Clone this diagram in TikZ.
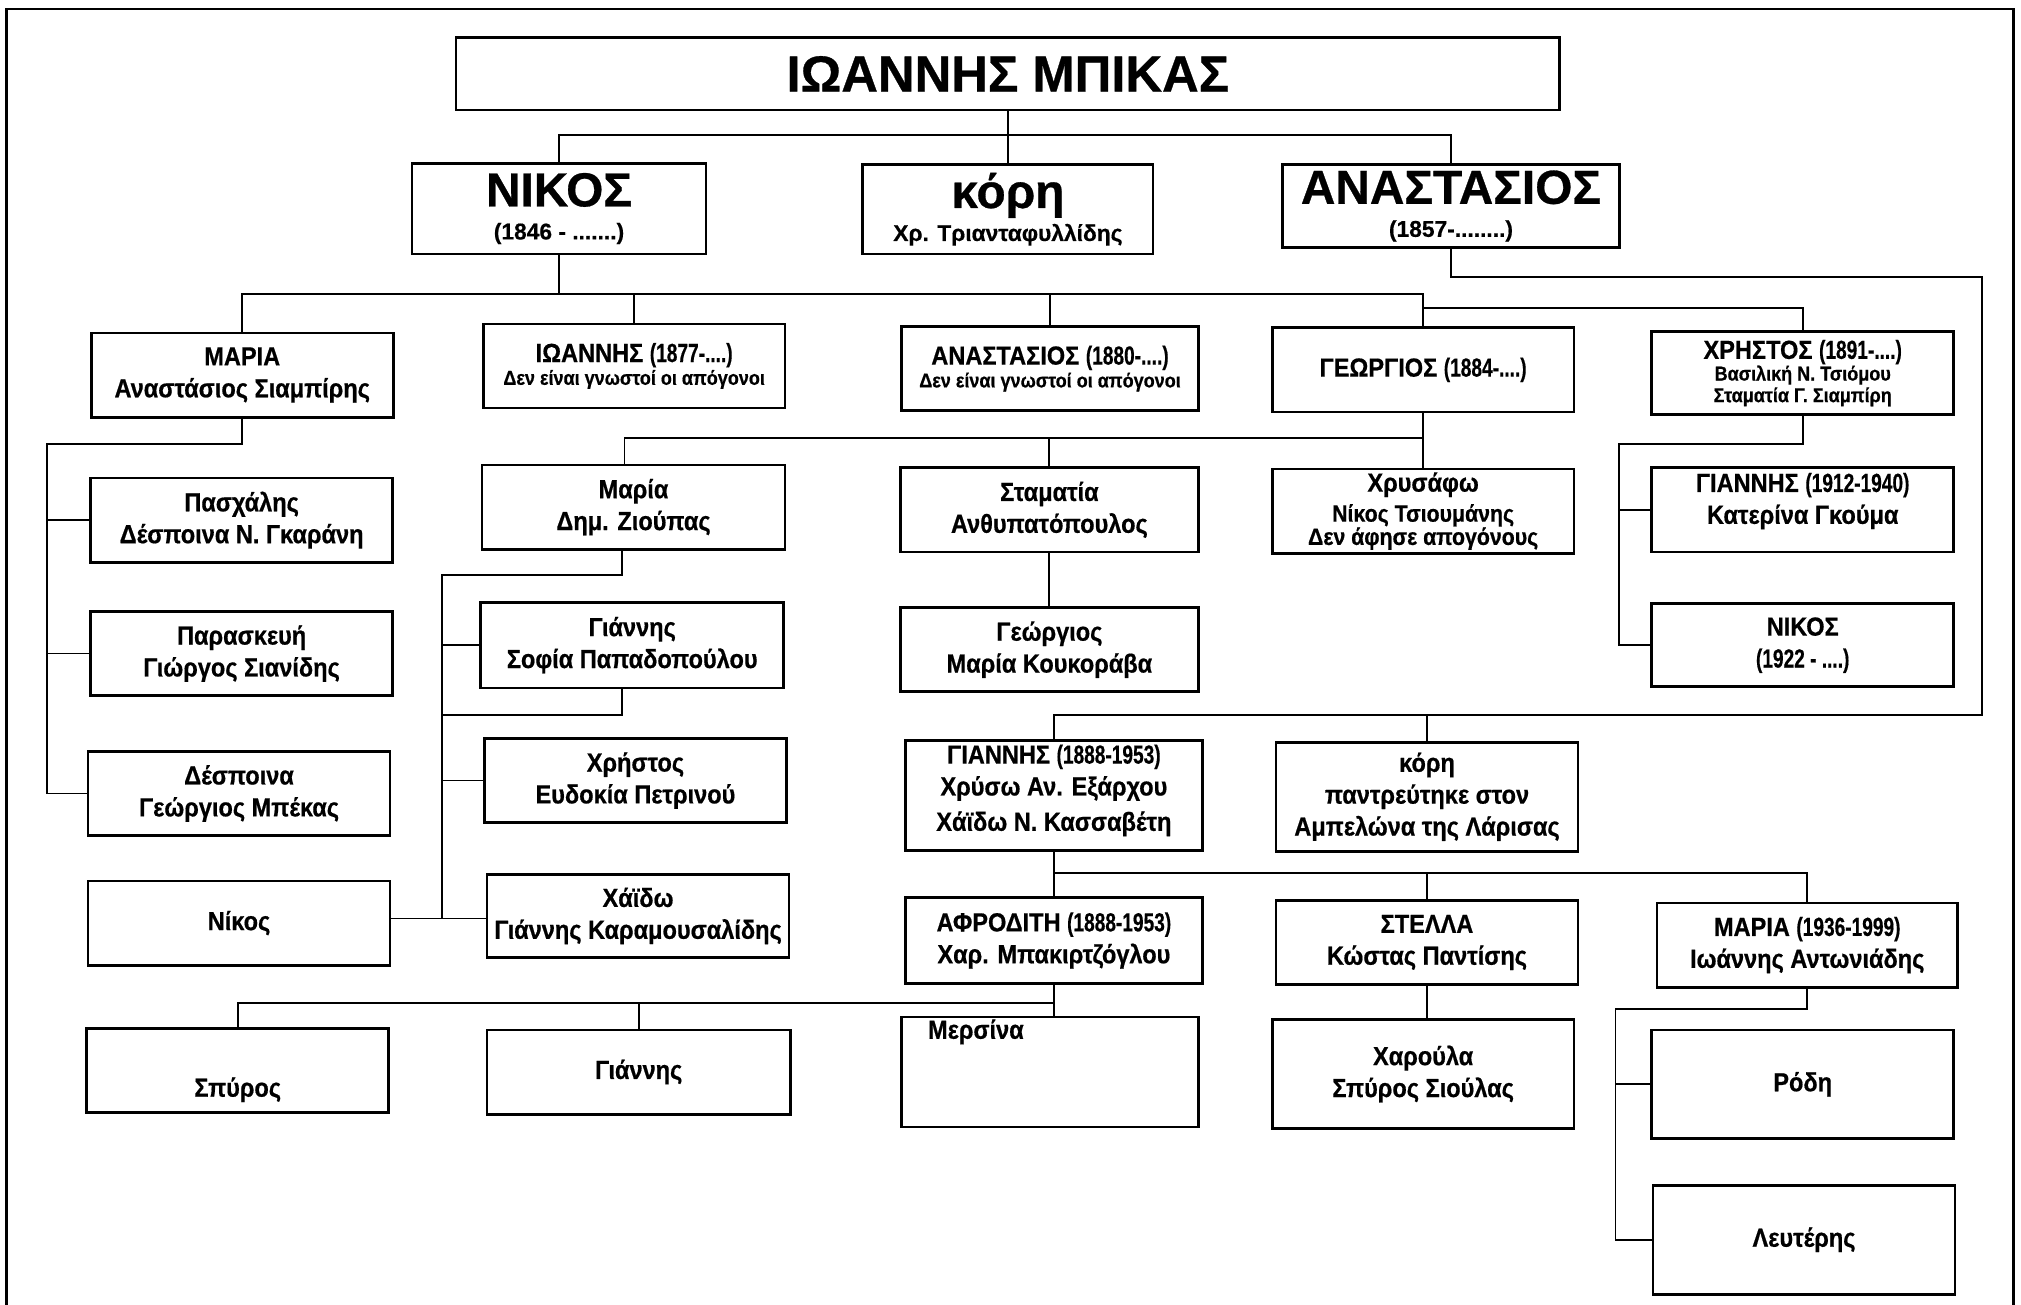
\documentclass[tikz,border=0pt]{standalone}
\usepackage{fontspec}
\setmainfont{Liberation Sans}[FakeStretch=0.9, BoldFeatures={FakeBold=0.6}]
\newfontfamily\headfont{Liberation Sans}[BoldFeatures={FakeBold=0.6}]
\newfontfamily\narrowfont{Liberation Sans}[FakeStretch=0.73, BoldFeatures={FakeBold=0.4}]

\newcommand{\yr}[1]{{\narrowfont\bfseries #1}}
\newcommand{\note}[1]{{\fontsize{8.8}{10}\selectfont #1}}
\newcommand{\minor}[1]{{\fontsize{10.4}{12}\selectfont #1}}

\tikzset{
  person/.style={draw, line width=1.2pt, align=center, inner sep=1pt,
    minimum width=233*0.02cm, minimum height=65*0.02cm,
    font=\fontsize{11.5}{14}\selectfont\bfseries},
  head/.style={person, font=\headfont\fontsize{21}{14.5}\selectfont\bfseries},
  sz/.style 2 args={minimum width=#1*0.02cm, minimum height=#2*0.02cm},
  link/.style={line width=0.8pt},
}

\begin{document}
\begin{tikzpicture}[x=0.02cm, y=-0.02cm]
	\useasboundingbox (0,0) rectangle (1560,1007);
	\draw[line width=1.2pt] (5,1007) -- (5,7) -- (1554,7) -- (1554,1007);
	
	% first generations
	\node[head, sz={852}{56}, font=\headfont\fontsize{22.3}{22}\selectfont\bfseries] (root) at (778,57) {ΙΩΑΝΝΗΣ ΜΠΙΚΑΣ};
	\node[head, sz={227}{70}] (nikos) at (431.5,161) {ΝΙΚΟΣ\\{\fontsize{10}{12}\selectfont (1846 - .......)}};
	\node[head, sz={224}{69}] (kori) at (778,161.5) {κόρη\\{\fontsize{10}{12}\selectfont Χρ. Τριανταφυλλίδης}};
	\node[head, sz={260}{64}] (anast) at (1120,159) {ΑΝΑΣΤΑΣΙΟΣ\\{\fontsize{10}{12}\selectfont (1857-........)}};
	
	\node[person] (maria) at (187,289.5) {ΜΑΡΙΑ\\Αναστάσιος Σιαμπίρης};
	\node[person] (ioan) at (489.5,282.5) {ΙΩΑΝΝΗΣ \yr{(1877-....)}\\[-4pt]\note{Δεν είναι γνωστοί οι απόγονοι}};
	\node[person, sz={229}{65}] (anast2) at (810.5,284.5) {ΑΝΑΣΤΑΣΙΟΣ \yr{(1880-....)}\\[-4pt]\note{Δεν είναι γνωστοί οι απόγονοι}};
	\node[person] (georg) at (1098.5,285.5) {ΓΕΩΡΓΙΟΣ \yr{(1884-....)}};
	\node[person, sz={233}{64}] (chris) at (1391.5,288) {ΧΡΗΣΤΟΣ \yr{(1891-....)}\\[-4.5pt]\note{Βασιλική Ν. Τσιόμου}\\[-4.5pt]\note{Σταματία Γ. Σιαμπίρη}};
	
	\node[person] (pasch) at (186.5,401.5) {Πασχάλης\\Δέσποινα Ν. Γκαράνη};
	\node[person] (parask) at (186.5,504.5) {Παρασκευή\\Γιώργος Σιανίδης};
	\node[person] (desp) at (184.5,612.5) {Δέσποινα\\Γεώργιος Μπέκας};
	\node[person] (nikosm) at (184.5,712.5) {Νίκος};
	
	\node[person, sz={234}{65}] (mariaz) at (489,391.5) {Μαρία\\Δημ. Ζιούπας};
	\node[person, sz={234}{66}] (giannsp) at (488,498) {Γιάννης\\Σοφία Παπαδοπούλου};
	\node[person] (christ) at (490.5,602.5) {Χρήστος\\Ευδοκία Πετρινού};
	\node[person, sz={233}{64}] (chaido) at (492.5,707) {Χάϊδω\\Γιάννης Καραμουσαλίδης};
	
	\node[person, sz={230}{65}] (stam) at (810,393.5) {Σταματία\\Ανθυπατόπουλος};
	\node[person, sz={230}{65}] (georgk) at (810,501.5) {Γεώργιος\\Μαρία Κουκοράβα};
	\node[person] (chrys) at (1098.5,394.5) {Χρυσάφω\\[-0.8pt]\minor{Νίκος Τσιουμάνης}\\[-3.8pt]\minor{Δεν άφησε απογόνους}};
	\node[person, text depth=10pt] (giannis12) at (1391.5,393.5) {ΓΙΑΝΝΗΣ \yr{(1912-1940)}\\Κατερίνα Γκούμα};
	\node[person, sz={233}{64}] (nikos22) at (1391.5,498) {ΝΙΚΟΣ\\\yr{(1922 - ....)}};
	
	\node[person, sz={229}{85}, text depth=6.8pt] (giannis88) at (813.5,614) {ΓΙΑΝΝΗΣ \yr{(1888-1953)}\\Χρύσω Αν. Εξάρχου\\[1.5pt]Χάϊδω Ν. Κασσαβέτη};
	\node[person, sz={233}{84}] (kori2) at (1101.5,615) {κόρη\\παντρεύτηκε στον\\Αμπελώνα της Λάρισας};
	\node[person, sz={229}{66}] (afrod) at (813.5,726) {ΑΦΡΟΔΙΤΗ \yr{(1888-1953)}\\Χαρ. Μπακιρτζόγλου};
	\node[person] (stella) at (1101.5,727.5) {ΣΤΕΛΛΑ\\Κώστας Παντίσης};
	\node[person, sz={232}{65}] (mariaa) at (1395,729.5) {ΜΑΡΙΑ \yr{(1936-1999)}\\Ιωάννης Αντωνιάδης};
	
	\node[person] (spyros) at (183.5,826.5) {\raisebox{-11.4pt}[0pt][0pt]{Σπύρος}};
	\node[person, sz={234}{65}] (giannisa) at (493,827.5) {Γιάννης};
	\node[person, sz={229}{85}, label={[anchor=north west, inner sep=0pt, xshift=12pt, yshift=-1.5pt, font=\fontsize{11.5}{14}\selectfont\bfseries]north west:Μερσίνα}] (mersina) at (810.5,827.5) {};
	\node[person, sz={233}{84}] (charoula) at (1098.5,829) {Χαρούλα\\Σπύρος Σιούλας};
	\node[person, sz={233}{84}] (rodi) at (1391.5,837) {Ρόδη};
	\node[person, sz={233}{84}] (lefteris) at (1392.5,957) {Λευτέρης};
	
	% junctions
	\coordinate (j0) at (779,104);
	\coordinate (j1) at (431.5,227);
	\coordinate (j2) at (1098.5,238);
	\coordinate (r1) at (1530,214);
	\coordinate (r2) at (1530,552);
	\coordinate (m1) at (36,343);
	\coordinate (g1) at (1098.5,338);
	\coordinate (z1) at (341,444);
	\coordinate (z2) at (341,709);
	\coordinate (z3) at (341,552);
	\coordinate (c1) at (1250,343);
	\coordinate (y1) at (813.5,674);
	\coordinate (a1) at (813.5,774);
	\coordinate (d1) at (1247,779);
	
	\draw[link] (root.south) -- (kori.north);
	\draw[link] (nikos.north) |- (j0) -| (anast.north);
	
	\draw[link] (anast.south) |- (r1) -- (r2) -| (giannis88.north);
	\draw[link] (kori2.north) -- (kori2.north |- r2);
	
	\draw[link] (nikos.south) -- (j1);
	\draw[link] (maria.north) |- (j1) -| (georg.north);
	\draw[link] (ioan.north) -- (ioan.north |- j1);
	\draw[link] (anast2.north) -- (anast2.north |- j1);
	\draw[link] (j2) -| (chris.north);
	
	\draw[link] (maria.south) |- (m1) |- (desp.west);
	\draw[link] (m1 |- pasch.west) -- (pasch.west);
	\draw[link] (m1 |- parask.west) -- (parask.west);
	
	\draw[link] (georg.south) -- (chrys.north);
	\draw[link] ([xshift=-0.14cm]mariaz.north) |- (g1);
	\draw[link] (stam.north) -- (stam.north |- g1);
	\draw[link] (stam.south) -- (georgk.north);
	
	\draw[link] ([xshift=-0.18cm]mariaz.south) |- (z1) -- (z2);
	\draw[link] (z1 |- giannsp.west) -- (giannsp.west);
	\draw[link] ([xshift=-0.16cm]giannsp.south) |- (z3);
	\draw[link] (z1 |- christ.west) -- (christ.west);
	\draw[link] (nikosm.east |- z2) -- (chaido.west |- z2);
	
	\draw[link] (chris.south) |- (c1) |- (nikos22.west);
	\draw[link] (c1 |- giannis12.west) -- (giannis12.west);
	
	\draw[link] (giannis88.south) -- (afrod.north);
	\draw[link] (y1) -| (mariaa.north);
	\draw[link] (stella.north) -- (stella.north |- y1);
	
	\draw[link] (afrod.south) -- (afrod.south |- mersina.north);
	\draw[link] (spyros.north) |- (a1);
	\draw[link] (giannisa.north) -- (giannisa.north |- a1);
	\draw[link] (stella.south) -- (stella.south |- charoula.north);
	
	\draw[link] (mariaa.south) |- (d1) |- (lefteris.west);
	\draw[link] (d1 |- rodi.west) -- (rodi.west);
	
\end{tikzpicture}
\end{document}
